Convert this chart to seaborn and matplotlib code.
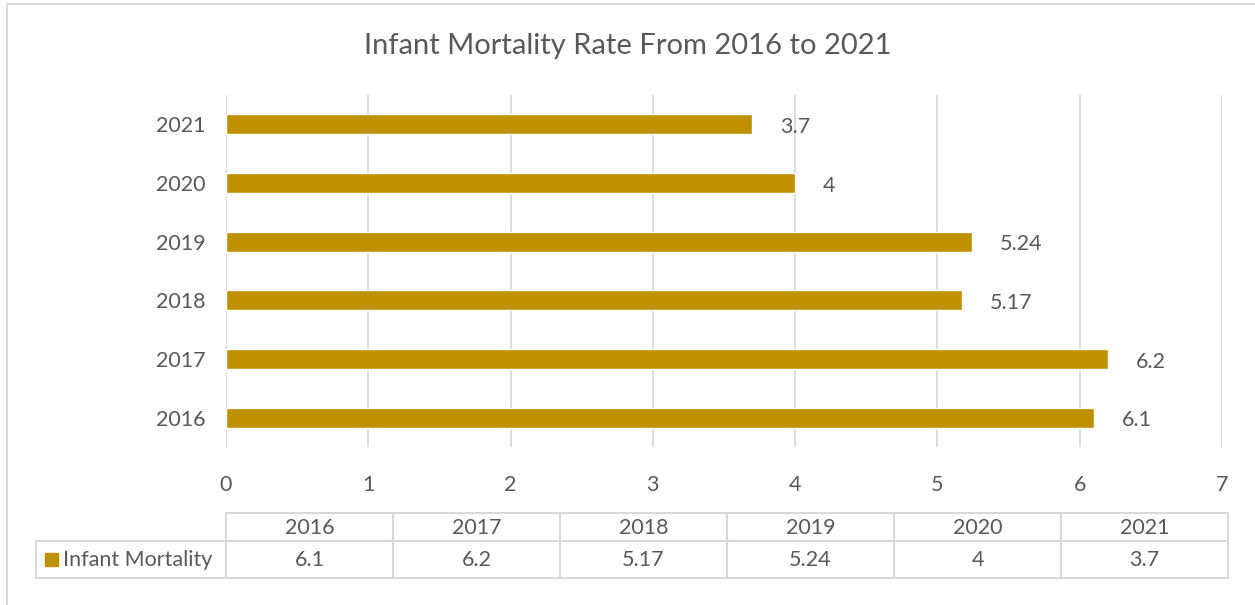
import matplotlib
matplotlib.use("Agg")
import matplotlib.pyplot as plt
import seaborn as sns
import pandas as pd
from matplotlib.patches import Rectangle
from matplotlib.lines import Line2D

# Data
years = ["2016", "2017", "2018", "2019", "2020", "2021"]
rates = [6.1, 6.2, 5.17, 5.24, 4, 3.7]
rate_labels = ["6.1", "6.2", "5.17", "5.24", "4", "3.7"]
series_name = "Infant Mortality"
title = "Infant Mortality Rate From 2016 to 2021"

BAR = "#BF9000"
TXT = "#595959"
GRID = "#D9D9D9"
FS = 15.5

sns.set_style("white")
plt.rcParams["font.family"] = ["Lato", "DejaVu Sans"]

W, H = 1255, 605
fig = plt.figure(figsize=(W / 100, H / 100), dpi=100)

# main bar axes (pixel layout -> figure fractions)
L, R, T, B = 226, 1222, 95, 447
ax = fig.add_axes([L / W, 1 - B / H, (R - L) / W, (B - T) / H])

df = pd.DataFrame({"year": years, "rate": rates})
order = years[::-1]
sns.barplot(data=df, x="rate", y="year", order=order, color=BAR,
            width=0.34, saturation=1, ax=ax, orient="h")

ax.set_xlim(0, 7)
ax.set_ylim(5.5, -0.5)
ax.set_xticks(range(0, 8))
ax.grid(axis="x", color=GRID, linewidth=1.3)
ax.set_axisbelow(True)
for s in ax.spines.values():
    s.set_visible(False)
ax.set_xlabel("")
ax.set_ylabel("")
ax.tick_params(axis="x", length=0, pad=20, labelsize=FS, labelcolor=TXT)
ax.tick_params(axis="y", length=0, pad=15, labelsize=FS, labelcolor=TXT)

lab_map = dict(zip(years, rate_labels))
anns = ax.bar_label(ax.containers[0], labels=[lab_map[y] for y in order],
                    padding=20, fontsize=FS, color=TXT)
for a in anns:
    x0, y0 = a.xyann
    a.xyann = (x0, y0 - 2)

fig.text(0.5, 1 - 46 / H, title, ha="center", va="center",
         fontsize=21, color=TXT)

# data table + outer border in pixel coords
tab = fig.add_axes([0, 0, 1, 1])
tab.set_xlim(0, W)
tab.set_ylim(H, 0)
tab.axis("off")
tab.patch.set_alpha(0)

tab.add_patch(Rectangle((7, 4), W + 20, H + 20, fill=False,
                        edgecolor=GRID, linewidth=1.5))

t_left, t_right = 226, 1228
leg_left = 36
y_top, y_mid, y_bot = 513, 541, 578
col_w = (t_right - t_left) / len(years)

lw = 1.5
tab.add_line(Line2D([t_left, t_right], [y_top, y_top], color=GRID, lw=lw))
tab.add_line(Line2D([leg_left, t_right], [y_mid, y_mid], color=GRID, lw=lw))
tab.add_line(Line2D([leg_left, t_right], [y_bot, y_bot], color=GRID, lw=lw))
tab.add_line(Line2D([leg_left, leg_left], [y_mid, y_bot], color=GRID, lw=lw))
for i in range(len(years) + 1):
    x = t_left + i * col_w
    tab.add_line(Line2D([x, x], [y_top, y_bot], color=GRID, lw=lw))

for i, (yr, lab) in enumerate(zip(years, rate_labels)):
    cx = t_left + (i + 0.5) * col_w
    tab.text(cx, (y_top + y_mid) / 2 + 1, yr, ha="center", va="center",
             fontsize=FS, color=TXT)
    tab.text(cx, (y_mid + y_bot) / 2 + 1, lab, ha="center", va="center",
             fontsize=FS, color=TXT)

tab.add_patch(Rectangle((45, 553), 13, 13, color=BAR))
tab.text(63, (y_mid + y_bot) / 2, series_name, ha="left", va="center",
         fontsize=FS, color=TXT)

fig.savefig("out.png", dpi=100)
